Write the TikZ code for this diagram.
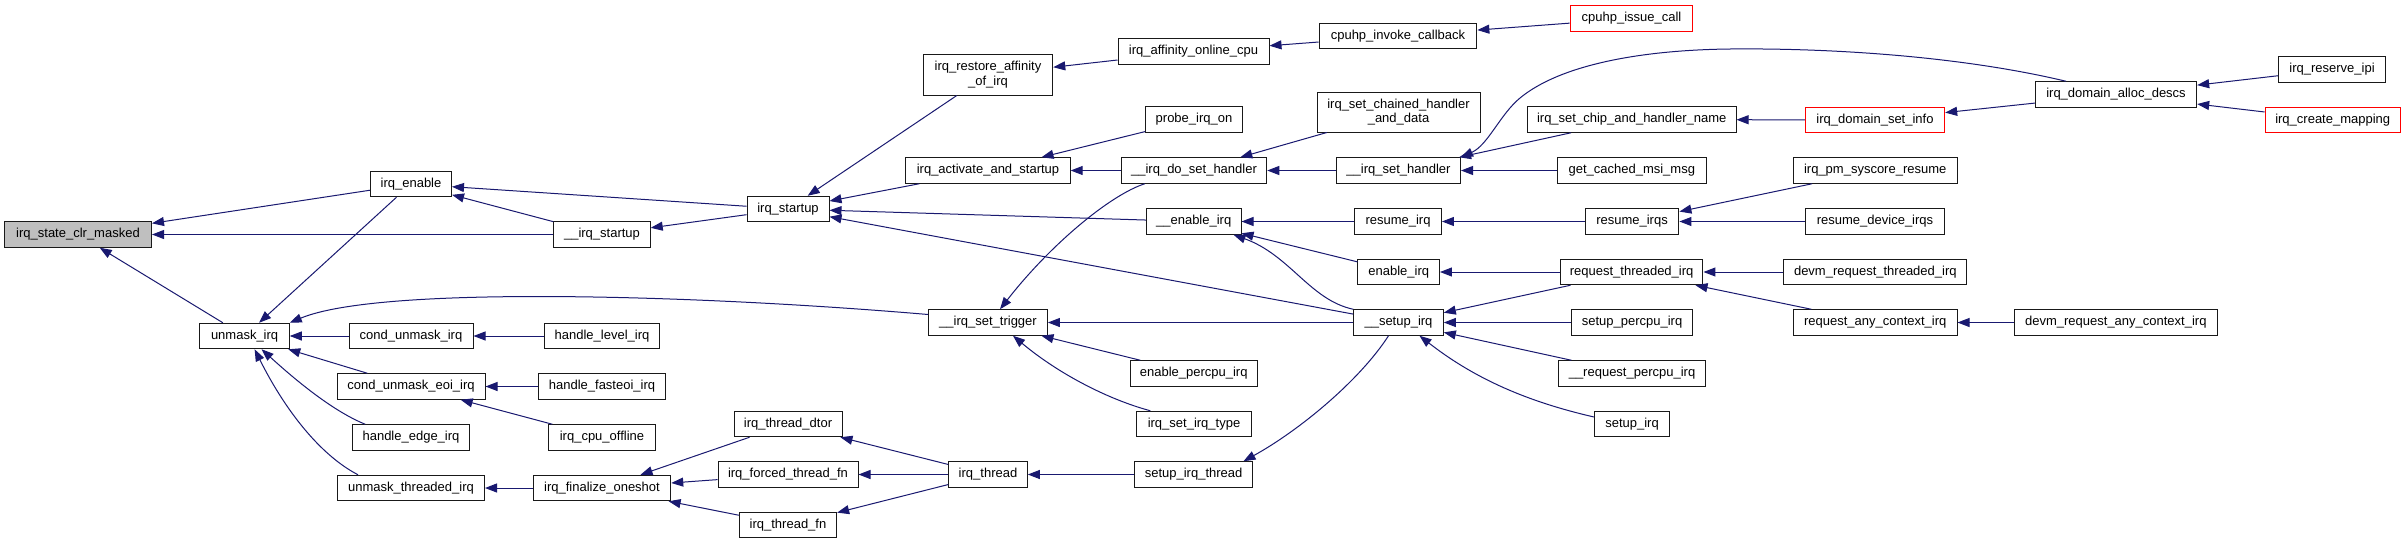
\documentclass[tikz,border=0pt]{standalone}
\usepackage{fontspec}
\setmainfont{Liberation Sans}
\usetikzlibrary{arrows.meta}
\definecolor{edgeblue}{HTML}{191970}
\definecolor{rootgray}{HTML}{BFBFBF}
\begin{document}
\begin{tikzpicture}[x=1pt,y=-1pt,
 box/.style={draw=black!90, line width=1pt, fill=white, inner sep=0pt, minimum height=25.5pt, font=\fontsize{13}{14.5}\selectfont, align=center},
 redbox/.style={box, draw=red},
 edge/.style={draw=edgeblue, line width=1pt, -{Triangle[length=12pt,width=9pt]}},
]
\fill[white] (0,0) rectangle (2405,544);
\useasboundingbox (0,0) rectangle (2405,544);
% nodes
\node[box, minimum width=147pt, fill=rootgray] (state) at (78,234.5) {irq\_state\_clr\_masked};
\node[box, minimum width=81pt] (irqenable) at (411,184) {irq\_enable};
\node[box, minimum width=96.4pt] (istu) at (602,234.5) {\_\_irq\_startup};
\node[box, minimum width=89.3pt] (unmask) at (244.6,336) {unmask\_irq};
\node[box, minimum width=124pt] (condunmask) at (411,336) {cond\_unmask\_irq};
\node[box, minimum width=114.3pt] (hlevel) at (602,336) {handle\_level\_irq};
\node[box, minimum width=148pt] (condeoi) at (411,386.5) {cond\_unmask\_eoi\_irq};
\node[box, minimum width=127pt] (hfasteoi) at (602,386.5) {handle\_fasteoi\_irq};
\node[box, minimum width=116.5pt] (hedge) at (411,437.5) {handle\_edge\_irq};
\node[box, minimum width=106.3pt] (cpuoff) at (602,437.5) {irq\_cpu\_offline};
\node[box, minimum width=147pt] (umt) at (411,488) {unmask\_threaded\_irq};
\node[box, minimum width=137.5pt] (finalize) at (602,488) {irq\_finalize\_oneshot};
\node[box, minimum width=129.5pt, minimum height=41pt] (restore) at (988,74.5) {irq\_restore\_affinity\\\_of\_irq};
\node[box, minimum width=151pt] (affonline) at (1193.5,51.5) {irq\_affinity\_online\_cpu};
\node[box, minimum width=96.4pt] (probe) at (1194,119.5) {probe\_irq\_on};
\node[box, minimum width=164.3pt] (activate) at (988,170.5) {irq\_activate\_and\_startup};
\node[box, minimum width=145.5pt] (dosh) at (1194,170.5) {\_\_irq\_do\_set\_handler};
\node[box, minimum width=82pt] (istartup) at (788,209) {irq\_startup};
\node[box, minimum width=94.6pt] (enirq) at (1193.7,221.5) {\_\_enable\_irq};
\node[box, minimum width=118.75pt] (settrig) at (988,322.5) {\_\_irq\_set\_trigger};
\node[box, minimum width=126.8pt] (enpercpu) at (1193.7,373.5) {enable\_percpu\_irq};
\node[box, minimum width=114.3pt] (sirt) at (1194,424) {irq\_set\_irq\_type};
\node[box, minimum width=108pt] (tdtor) at (788,424) {irq\_thread\_dtor};
\node[box, minimum width=140pt] (tforced) at (788,474.5) {irq\_forced\_thread\_fn};
\node[box, minimum width=97.3pt] (tfn) at (788,525) {irq\_thread\_fn};
\node[box, minimum width=78.6pt] (ithread) at (988,474.5) {irq\_thread};
\node[box, minimum width=118.75pt] (sit) at (1193.6,474.5) {setup\_irq\_thread};
\node[box, minimum width=157.7pt] (cpuinv) at (1398,36) {cpuhp\_invoke\_callback};
\node[redbox, minimum width=122.8pt] (cpuissue) at (1631.5,18.5) {cpuhp\_issue\_call};
\node[box, minimum width=163pt, minimum height=40pt] (chained) at (1398.5,112) {irq\_set\_chained\_handler\\\_and\_data};
\node[box, minimum width=124pt] (ish) at (1398.5,170.5) {\_\_irq\_set\_handler};
\node[box, minimum width=208.6pt] (chipname) at (1631.7,119.5) {irq\_set\_chip\_and\_handler\_name};
\node[box, minimum width=149.3pt] (getmsi) at (1631.8,170.5) {get\_cached\_msi\_msg};
\node[box, minimum width=86.9pt] (resirq) at (1398,221.5) {resume\_irq};
\node[box, minimum width=93.8pt] (resirqs) at (1632,221.5) {resume\_irqs};
\node[box, minimum width=81.5pt] (enableirq) at (1398.7,272) {enable\_irq};
\node[box, minimum width=142.7pt] (reqthr) at (1631.6,272) {request\_threaded\_irq};
\node[box, minimum width=89.6pt] (setup) at (1398.5,322.5) {\_\_setup\_irq};
\node[box, minimum width=121.7pt] (setpercpu) at (1632,322.5) {setup\_percpu\_irq};
\node[box, minimum width=147pt] (reqpercpu) at (1632,373.5) {\_\_request\_percpu\_irq};
\node[box, minimum width=75pt] (setupirq) at (1632,424) {setup\_irq};
\node[box, minimum width=161.3pt] (alloc) at (2116,94.5) {irq\_domain\_alloc\_descs};
\node[redbox, minimum width=139.3pt] (setinfo) at (1875,120) {irq\_domain\_set\_info};
\node[box, minimum width=106.9pt] (reserveipi) at (2332,69.5) {irq\_reserve\_ipi};
\node[redbox, minimum width=135.4pt] (createmap) at (2332.7,120) {irq\_create\_mapping};
\node[box, minimum width=163.6pt] (pmsys) at (1875.2,170.5) {irq\_pm\_syscore\_resume};
\node[box, minimum width=139.3pt] (resdev) at (1875,221.5) {resume\_device\_irqs};
\node[box, minimum width=182.8pt] (devmthr) at (1875.3,272) {devm\_request\_threaded\_irq};
\node[box, minimum width=163.6pt] (reqany) at (1875.2,322.5) {request\_any\_context\_irq};
\node[box, minimum width=202.5pt] (devmany) at (2115.8,322.5) {devm\_request\_any\_context\_irq};
% edges
\draw[edge] (irqenable) -- (state);
\draw[edge] (istu) -- (state);
\draw[edge] (unmask) -- (state);
\draw[edge] (istartup) -- (irqenable);
\draw[edge] (istu) -- (irqenable);
\draw[edge] (irqenable) -- (unmask);
\draw[edge] (istartup) -- (istu);
\draw[edge] ([yshift=8pt]settrig.west) .. controls (700,295) and (380,285) .. (unmask.north east);
\draw[edge] (condunmask) -- (unmask);
\draw[edge] (hlevel) -- (condunmask);
\draw[edge] (condeoi) -- (unmask);
\draw[edge] (hfasteoi) -- (condeoi);
\draw[edge] (cpuoff) -- (condeoi);
\draw[edge] ([xshift=13pt]hedge.north west) .. controls (330,410) and (290,375) .. ([xshift=17pt]unmask.south);
\draw[edge] ([xshift=21pt]umt.north west) .. controls (320,455) and (285,410) .. ([xshift=10pt]unmask.south);
\draw[edge] (finalize) -- (umt);
\draw[edge] (tdtor) -- (finalize);
\draw[edge] (tforced) -- (finalize);
\draw[edge] (tfn) -- (finalize);
\draw[edge] (ithread) -- (tdtor);
\draw[edge] (ithread) -- (tforced);
\draw[edge] (ithread) -- (tfn);
\draw[edge] (sit) -- (ithread);
\draw[edge] ([xshift=-10pt]setup.south) .. controls (1360,380) and (1300,430) .. ([xshift=-10pt]sit.north east);
\draw[edge] (restore) -- (istartup);
\draw[edge] (activate) -- (istartup);
\draw[edge] (enirq) -- (istartup);
\draw[edge] (setup) -- (istartup);
\draw[edge] (affonline) -- (restore);
\draw[edge] (cpuinv) -- (affonline);
\draw[edge] (cpuissue) -- (cpuinv);
\draw[edge] (probe) -- (activate);
\draw[edge] (dosh) -- (activate);
\draw[edge] ([xshift=24pt]dosh.south west) .. controls (1110,195) and (1050,245) .. ([xshift=12pt]settrig.north);
\draw[edge] (chained) -- (dosh);
\draw[edge] (ish) -- (dosh);
\draw[edge] (chipname) -- (ish);
\draw[edge] (getmsi) -- (ish);
\draw[edge] ([xshift=-50pt]alloc.north) .. controls (1960,56) and (1830,48) .. (1730,49) .. controls (1640,50) and (1560,65) .. (1520,98) .. controls (1500,114.5) and (1488,145) .. (ish.north east);
\draw[edge] (setinfo) -- (chipname);
\draw[edge] (alloc) -- (setinfo);
\draw[edge] (reserveipi) -- (alloc);
\draw[edge] (createmap) -- (alloc);
\draw[edge] (resirq) -- (enirq);
\draw[edge] (enableirq) -- (enirq);
\draw[edge] (setup.north west) .. controls (1310,300) and (1290,255) .. ([xshift=-8pt]enirq.south east);
\draw[edge] (resirqs) -- (resirq);
\draw[edge] (pmsys) -- (resirqs);
\draw[edge] (resdev) -- (resirqs);
\draw[edge] (reqthr) -- (enableirq);
\draw[edge] (devmthr) -- (reqthr);
\draw[edge] (reqany) -- (reqthr);
\draw[edge] (devmany) -- (reqany);
\draw[edge] (reqthr) -- (setup);
\draw[edge] (setpercpu) -- (setup);
\draw[edge] (reqpercpu) -- (setup);
\draw[edge] ([yshift=7pt]setupirq.west) .. controls (1520,400) and (1470,375) .. ([xshift=21pt]setup.south);
\draw[edge] (setup) -- (settrig);
\draw[edge] (enpercpu) -- (settrig);
\draw[edge] ([xshift=14pt]sirt.north west) .. controls (1110,400) and (1060,375) .. ([xshift=25pt]settrig.south);
\end{tikzpicture}
\end{document}
